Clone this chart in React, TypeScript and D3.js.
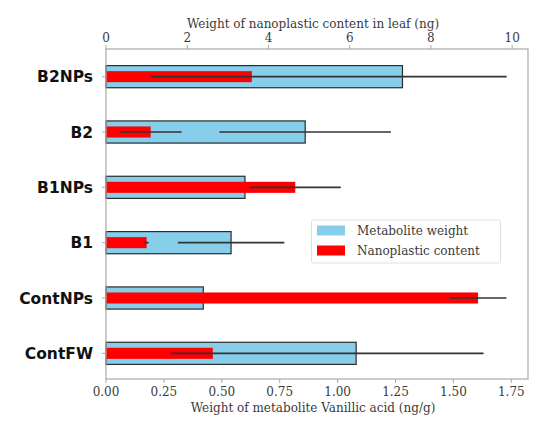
import * as d3 from "d3";
import React from "react";

const categories = ["B2NPs", "B2", "B1NPs", "B1", "ContNPs", "ContFW"];
const metaboliteWeight = [1.28, 0.86, 0.6, 0.54, 0.42, 1.08];
const metaboliteErr = [0.45, 0.37, 0.0, 0.23, 0.0, 0.55];
const nanoplasticContent = [3.59, 1.1, 4.66, 1.0, 9.16, 2.63];
const nanoplasticErr = [2.49, 0.76, 1.12, 0.05, 0.7, 1.03];
const bottomTicks = [0, 0.25, 0.5, 0.75, 1.0, 1.25, 1.5, 1.75];
const topTicks = [0, 2, 4, 6, 8, 10];

const W = 538, H = 425;
const m = { top: 49, right: 528, bottom: 379, left: 106 };
const serif = "'DejaVu Serif', serif";
const textCol = "#3a3a3a";

// merge overlapping pixel intervals so shared error lines don't double-darken
function mergeSpans(spans: [number, number][]) {
    const s = spans.filter(d => d[1] > d[0]).sort((a, b) => a[0] - b[0]);
    const out: [number, number][] = [];
    for (const d of s) {
        const last = out[out.length - 1];
        if (last && d[0] <= last[1]) last[1] = Math.max(last[1], d[1]);
        else out.push([d[0], d[1]]);
    }
    return out;
}

export default function App() {
    const xb = d3.scaleLinear().domain([0, 1.822]).range([m.left, m.right]);
    const xt = d3.scaleLinear().domain([0, 10.39]).range([m.left, m.right]);
    const y = d3.scalePoint<string>().domain(categories).range([m.top, m.bottom + 2]).padding(0.5);
    const step = y.step();
    const hBlue = step * 0.4, hRed = step * 0.2;

    return (
        <div style={{ position: "absolute", left: 0, top: 0 }}>
            <svg width={W} height={H} style={{ display: "block", background: "#fff" }}>
                {/* blue bars */}
                {categories.map((c, i) => (
                    <rect key={"b" + c} x={xb(0)} y={y(c)! - hBlue / 2} width={xb(metaboliteWeight[i]) - xb(0)} height={hBlue}
                        fill="#87CEEB" stroke="#2b2b2b" strokeWidth={1.2} />
                ))}
                {/* red bars */}
                {categories.map((c, i) => (
                    <rect key={"r" + c} x={xt(0)} y={y(c)! - hRed / 2} width={xt(nanoplasticContent[i]) - xt(0)} height={hRed} fill="#ff0000" />
                ))}
                {/* error bars */}
                {categories.map((c, i) => {
                    const spans = mergeSpans([
                        [xb(metaboliteWeight[i] - metaboliteErr[i]), xb(metaboliteWeight[i] + metaboliteErr[i])],
                        [xt(nanoplasticContent[i] - nanoplasticErr[i]), xt(nanoplasticContent[i] + nanoplasticErr[i])],
                    ]);
                    return (
                        <g key={"e" + c} stroke="#333" strokeWidth={1.7}>
                            {spans.map((s, k) => <line key={k} x1={s[0]} x2={s[1]} y1={y(c)} y2={y(c)} />)}
                        </g>
                    );
                })}
                {/* frame */}
                <rect x={m.left} y={m.top} width={m.right - m.left} height={m.bottom - m.top} fill="none" stroke="#a8a8a8" strokeWidth={1.2} />

                {/* left ticks and category labels */}
                {categories.map(c => (
                    <g key={"l" + c}>
                        <line x1={m.left - 4} x2={m.left} y1={y(c)} y2={y(c)} stroke="#a8a8a8" />
                        <text x={93} y={y(c)} dy="0.36em" textAnchor="end" fontFamily="'DejaVu Sans', sans-serif" fontWeight="bold" fontSize={15.5} fill="#111">{c}</text>
                    </g>
                ))}

                {/* bottom axis */}
                {bottomTicks.map(t => (
                    <g key={"bt" + t}>
                        <line x1={xb(t)} x2={xb(t)} y1={m.bottom} y2={m.bottom + 4} stroke="#a8a8a8" />
                        <text x={xb(t)} y={396} textAnchor="middle" fontFamily={serif} fontSize={12} fill={textCol}>{t.toFixed(2)}</text>
                    </g>
                ))}
                <text x={(m.left + m.right) / 2 - 4} y={412} textAnchor="middle" fontFamily={serif} fontSize={12} fill={textCol}>Weight of metabolite Vanillic acid (ng/g)</text>

                {/* top axis */}
                {topTicks.map(t => (
                    <g key={"tt" + t}>
                        <line x1={xt(t)} x2={xt(t)} y1={m.top} y2={m.top - 4} stroke="#a8a8a8" />
                        <text x={xt(t)} y={42} textAnchor="middle" fontFamily={serif} fontSize={12} fill={textCol}>{t}</text>
                    </g>
                ))}
                <text x={(m.left + m.right) / 2 - 4} y={28} textAnchor="middle" fontFamily={serif} fontSize={12} fill={textCol}>Weight of nanoplastic content in leaf (ng)</text>

                {/* legend */}
                <g>
                    <rect x={311.5} y={220} width={189} height={43} rx={2} fill="#fff" fillOpacity={0.8} stroke="#e0e0e0" />
                    <rect x={317} y={225.5} width={28} height={10} fill="#87CEEB" />
                    <text x={357} y={230.5} dy="0.35em" fontFamily={serif} fontSize={12} fill={textCol}>Metabolite weight</text>
                    <rect x={317} y={245.5} width={28} height={10} fill="#ff0000" />
                    <text x={357} y={250.5} dy="0.35em" fontFamily={serif} fontSize={12} fill={textCol}>Nanoplastic content</text>
                </g>
            </svg>
        </div>
    );
}
